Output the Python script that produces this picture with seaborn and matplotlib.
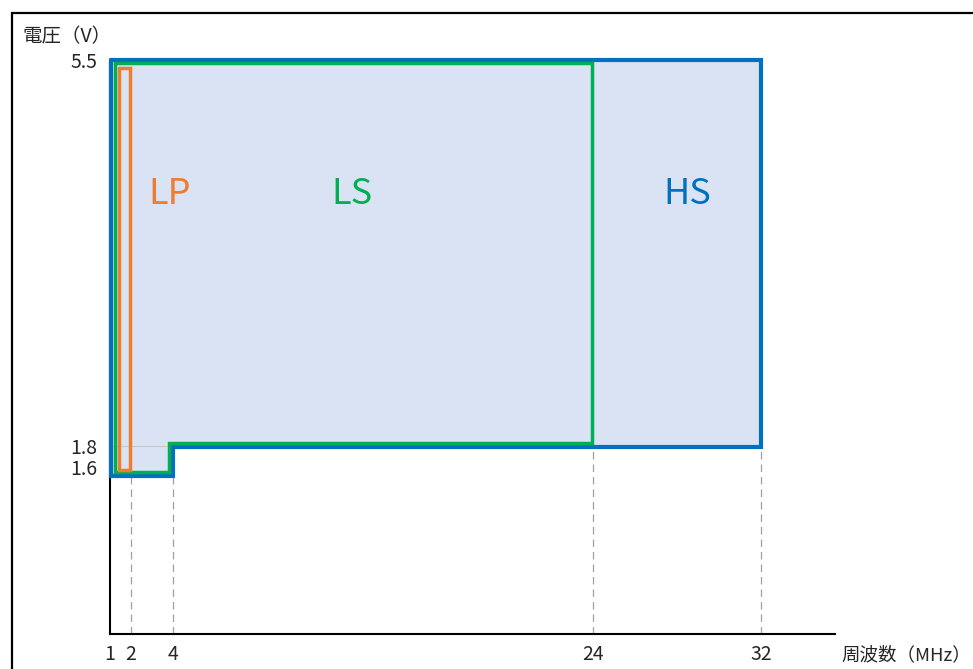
import numpy as np
import matplotlib
matplotlib.use("Agg")
import matplotlib.pyplot as plt
import seaborn as sns
import pandas as pd
from matplotlib.patches import Rectangle

# outline corners (MHz, V)
hs_freq = [1.05, 32.0, 32.0, 4.0, 4.0, 1.05, 1.05]
hs_volt = [5.5, 5.5, 1.79, 1.79, 1.51, 1.51, 5.5]
ls_freq = [1.26, 23.97, 23.97, 3.84, 3.84, 1.26, 1.26]
ls_volt = [5.47, 5.47, 1.83, 1.83, 1.55, 1.55, 5.47]
lp_freq = [1.45, 1.97, 1.97, 1.45, 1.45]
lp_volt = [5.42, 5.42, 1.575, 1.575, 5.42]

mode_names = ["LP", "LS", "HS"]
mode_label_freq = [3.87, 12.53, 28.47]
mode_label_volt = [4.22, 4.22, 4.22]

xticks = [1, 2, 4, 24, 32]
yticks = [1.6, 1.8, 5.5]
guide_freq = [2, 4, 24, 32]
guide_top = [1.51, 1.51, 1.79, 1.79]

blue = "#0070C0"
green = "#00B050"
orange = "#ED7D31"
fill_c = "#DAE3F3"

sns.set_style("white")
plt.rcParams["font.family"] = ["Noto Sans CJK JP", "DejaVu Sans"]

fig = plt.figure(figsize=(9.73, 6.69), dpi=100)
ax = fig.add_axes([109.6/973, 35/669, 725/973, (634-60)/669])

# shaded HS region
ax.fill(hs_freq, hs_volt, color=fill_c, lw=0, zorder=1)

# thin reference line at 1.8V and dashed guides
ax.plot([1, 4], [1.8, 1.8], color="#C8C8C8", lw=0.8, zorder=1.5)
for f, t in zip(guide_freq, guide_top):
    ax.plot([f, f], [0, t], color="#A0A0A0", lw=0.9, ls=(0, (6, 4)), zorder=1.5)

df = pd.concat([
    pd.DataFrame({"freq": hs_freq, "volt": hs_volt, "mode": "HS"}),
    pd.DataFrame({"freq": ls_freq, "volt": ls_volt, "mode": "LS"}),
    pd.DataFrame({"freq": lp_freq, "volt": lp_volt, "mode": "LP"}),
])
widths = {"HS": 3.0, "LS": 2.5, "LP": 2.5}
colors = {"HS": blue, "LS": green, "LP": orange}
for m in ["HS", "LS", "LP"]:
    sub = df[df["mode"] == m]
    sns.lineplot(data=sub, x="freq", y="volt", sort=False, estimator=None,
                 color=colors[m], lw=widths[m], ax=ax, zorder=3, clip_on=False)
    ax.lines[-1].set_solid_joinstyle("miter")

label_colors = [orange, green, blue]
for name, x, y, c in zip(mode_names, mode_label_freq, mode_label_volt, label_colors):
    ax.text(x, y, name, color=c, fontsize=26, ha="center", va="center")

ax.set_xlim(1, 35.5)
ax.set_ylim(0, 5.5)
ax.set_xticks(xticks)
ax.set_xticklabels([str(v) for v in xticks])
ax.set_yticks(yticks)
ax.set_yticklabels(["1.6", "1.8", "5.5"])
ax.tick_params(axis="both", length=0, labelsize=14)
ax.tick_params(axis="x", pad=7)
ax.tick_params(axis="y", pad=9)
ax.set_xlabel("")
ax.set_ylabel("")
for s in ["top", "right"]:
    ax.spines[s].set_visible(False)
for s in ["left", "bottom"]:
    ax.spines[s].set_color("black")
    ax.spines[s].set_linewidth(1.5)
    ax.spines[s].set_zorder(2.5)

fig.text(22/973, 1-37/669, "電圧（V）", fontsize=14, ha="left", va="center")
fig.text(841/973, 1-655/669, "周波数（MHz）", fontsize=13.3, ha="left", va="center")

# outer frame
fig.patches.append(Rectangle((11.5/973, -0.1), 1.2, 1.1-13/669, transform=fig.transFigure,
                             fill=False, edgecolor="black", lw=1.6))

fig.savefig("out.png", dpi=100)
